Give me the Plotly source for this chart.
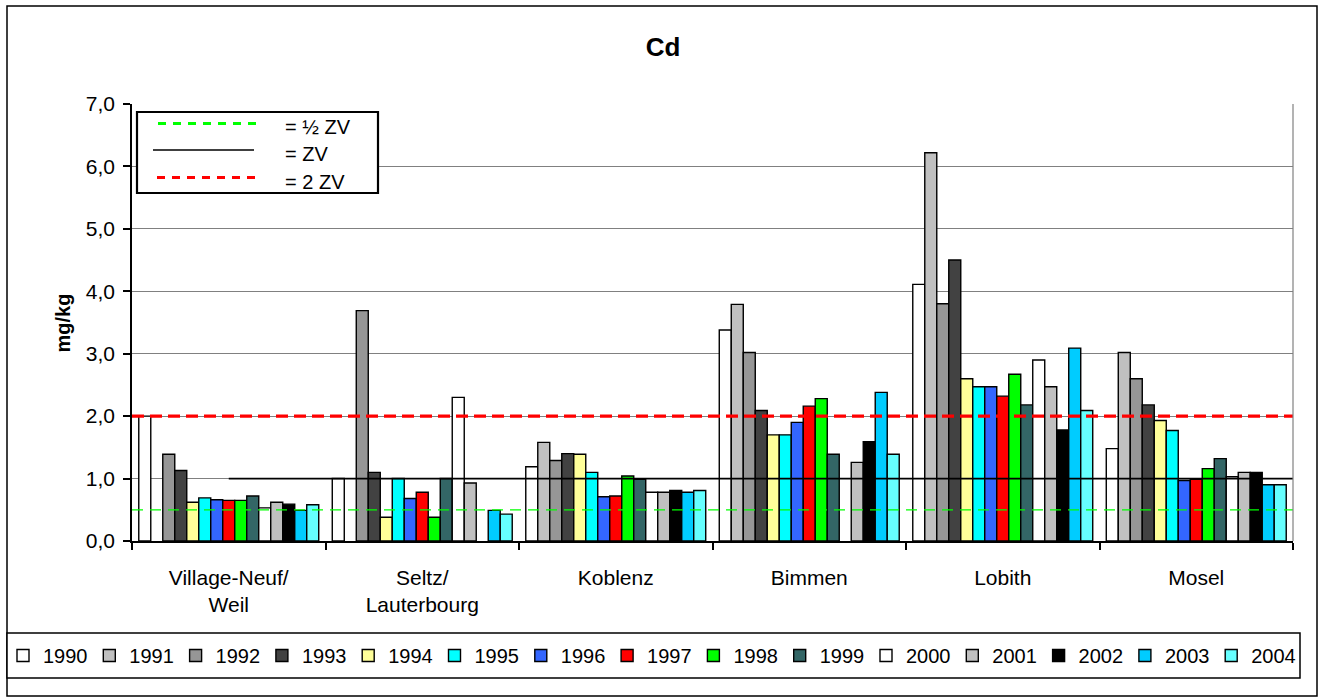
import plotly.graph_objects as go

# ---------------- data ----------------
stations = ["Village-Neuf/<br>Weil", "Seltz/<br>Lauterbourg", "Koblenz", "Bimmen", "Lobith", "Mosel"]
years = ["1990", "1991", "1992", "1993", "1994", "1995", "1996", "1997",
         "1998", "1999", "2000", "2001", "2002", "2003", "2004"]

# Cd values (mg/kg) per station, one value per year 1990..2004 (None = no bar)
village_neuf = [2.00, None, 1.39, 1.13, 0.62, 0.69, 0.66, 0.65, 0.65, 0.72, 0.53, 0.62, 0.59, 0.49, 0.58]
seltz        = [1.00, None, 3.69, 1.10, 0.38, 1.00, 0.68, 0.78, 0.38, 1.00, 2.30, 0.93, None, 0.49, 0.43]
koblenz      = [1.19, 1.58, 1.29, 1.40, 1.39, 1.10, 0.71, 0.72, 1.04, 0.99, 0.78, 0.78, 0.81, 0.78, 0.81]
bimmen       = [3.38, 3.79, 3.02, 2.09, 1.70, 1.70, 1.90, 2.16, 2.28, 1.39, None, 1.26, 1.59, 2.38, 1.39]
lobith       = [4.11, 6.22, 3.80, 4.50, 2.60, 2.47, 2.47, 2.32, 2.67, 2.18, 2.90, 2.47, 1.78, 3.09, 2.09]
mosel        = [1.48, 3.02, 2.60, 2.18, 1.93, 1.77, 0.97, 0.99, 1.16, 1.32, 1.03, 1.10, 1.10, 0.90, 0.90]

# reference levels
zv = 1.0
half_zv = 0.5
two_zv = 2.0
ref_labels = ["= \u00bd ZV", "= ZV", "= 2 ZV"]

y_range = [0, 7]

# ---------------- style ----------------
colors = ["#FFFFFF", "#C0C0C0", "#969696", "#424242", "#FFFF99", "#00FFFF", "#3366FF", "#FF0000",
          "#00FF00", "#336666", "#FFFFFF", "#C0C0C0", "#000000", "#00CCFF", "#66FFFF"]
FONT = "Liberation Sans, Arial, sans-serif"

W, H = 1326, 698
L, R, T, B = 132, 1293, 104, 541  # plot area in pixels


def px(x):
    return (x - L) / (R - L)


def py(y):
    return (B - y) / (B - T)


table = [village_neuf, seltz, koblenz, bimmen, lobith, mosel]

fig = go.Figure()
for i, yr in enumerate(years):
    fig.add_trace(go.Bar(
        x=stations, y=[row[i] for row in table], name=yr,
        marker=dict(color=colors[i], line=dict(color="black", width=1.4)),
    ))

n = len(stations)
fig.add_trace(go.Scatter(x=[-0.5, n - 0.5], y=[half_zv, half_zv], mode="lines", xaxis="x2",
                         line=dict(color="#00FF00", width=1.3, dash="11px,7px"),
                         showlegend=False, hoverinfo="skip"))
fig.add_trace(go.Scatter(x=[0, n - 0.5], y=[zv, zv], mode="lines", xaxis="x2",
                         line=dict(color="black", width=1.8),
                         showlegend=False, hoverinfo="skip"))
fig.add_trace(go.Scatter(x=[-0.5, n - 0.5], y=[two_zv, two_zv], mode="lines", xaxis="x2",
                         line=dict(color="#FF0000", width=3.2, dash="12px,6px"),
                         showlegend=False, hoverinfo="skip"))

shapes = []
# outer chart border
shapes.append(dict(type="rect", xref="paper", yref="paper", x0=px(7), x1=px(1317), y0=py(6), y1=py(696),
                   line=dict(color="black", width=1.5), fillcolor="rgba(0,0,0,0)", layer="below"))
# right plot-area border
shapes.append(dict(type="line", xref="paper", yref="paper", x0=1, x1=1, y0=0, y1=1,
                   line=dict(color="#808080", width=1.2)))
# bottom legend box
shapes.append(dict(type="rect", xref="paper", yref="paper", x0=px(7), x1=px(1300), y0=py(633), y1=py(678),
                   line=dict(color="black", width=1.5), fillcolor="white", layer="below"))
# reference-line legend box
shapes.append(dict(type="rect", xref="paper", yref="paper", x0=px(137), x1=px(378), y0=py(112), y1=py(193),
                   line=dict(color="black", width=2.2), fillcolor="white"))
shapes.append(dict(type="line", xref="paper", yref="paper", x0=px(158), x1=px(262), y0=py(123.5), y1=py(123.5),
                   line=dict(color="#00FF00", width=3, dash="8px,7px")))
shapes.append(dict(type="line", xref="paper", yref="paper", x0=px(153), x1=px(254), y0=py(150), y1=py(150),
                   line=dict(color="black", width=1.5)))
shapes.append(dict(type="line", xref="paper", yref="paper", x0=px(157), x1=px(258), y0=py(177.5), y1=py(177.5),
                   line=dict(color="#FF0000", width=3, dash="8px,7px")))

annotations = []
for lab, yc in zip(ref_labels, [127, 154, 182]):
    annotations.append(dict(text=lab, xref="paper", yref="paper", x=px(283), y=py(yc),
                            xanchor="left", yanchor="middle", showarrow=False,
                            font=dict(size=20, family=FONT, color="black")))
annotations.append(dict(text="<b>mg/kg</b>", xref="paper", yref="paper", x=px(62), y=py(323.5),
                        xanchor="center", yanchor="middle", textangle=-90, showarrow=False,
                        font=dict(size=20, family=FONT, color="black")))

fig.update_layout(
    width=W, height=H,
    margin=dict(l=L, r=W - R, t=T, b=H - B, pad=0, autoexpand=False),
    paper_bgcolor="white", plot_bgcolor="white",
    font=dict(family=FONT, size=20, color="black"),
    separators=", ",
    barmode="group", bargap=0.07, bargroupgap=0,
    title=dict(text="<b>Cd</b>", x=0.5, xanchor="center", xref="container",
               y=1 - 47 / H, yanchor="middle", yref="container",
               font=dict(size=26, family=FONT, color="black")),
    xaxis=dict(type="category", range=[-0.5, n - 0.5], showline=True, linecolor="black", linewidth=1.5,
               ticks="outside", tickson="boundaries", ticklen=7, tickcolor="black", tickwidth=1.5,
               showgrid=False, tickfont=dict(size=21), ticklabelstandoff=17, fixedrange=True),
    xaxis2=dict(overlaying="x", range=[-0.5, n - 0.5], visible=False, fixedrange=True),
    yaxis=dict(range=y_range, dtick=1, tickformat=".1f", showline=True, linecolor="black", linewidth=1.5,
               ticks="outside", ticklen=7, tickcolor="black", tickwidth=1.5,
               showgrid=True, gridcolor="#808080", gridwidth=1.2, zeroline=False,
               tickfont=dict(size=21), ticklabelstandoff=4, fixedrange=True),
    legend=dict(orientation="h", x=px(3), y=py(655.5), xanchor="left", yanchor="middle",
                entrywidth=41.3, entrywidthmode="pixels", borderwidth=0,
                bgcolor="rgba(0,0,0,0)", font=dict(size=20, family=FONT), traceorder="normal"),
    shapes=shapes,
    annotations=annotations,
    showlegend=True,
)

fig.write_html("out.html")
